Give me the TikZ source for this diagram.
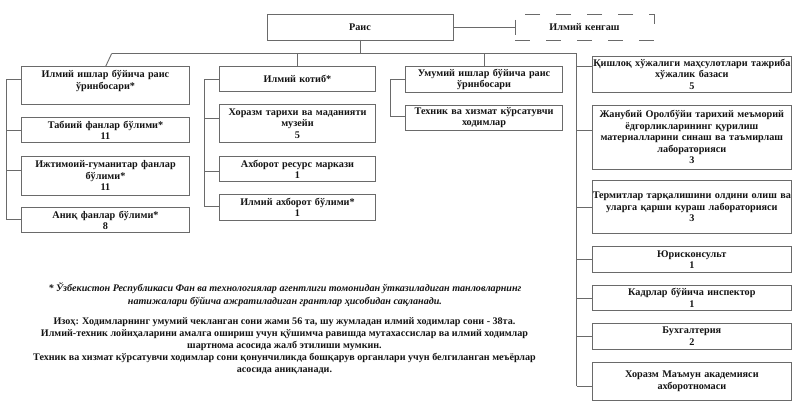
\documentclass[tikz,border=0pt]{standalone}
\usepackage{fontspec}
\setmainfont{Liberation Serif}
\definecolor{ln}{HTML}{6A6A6A}
\definecolor{tx}{HTML}{141414}
\tikzset{
  ob/.style={draw=ln, line width=0.9pt, fill=white, inner xsep=-6pt, inner ysep=1pt, outer sep=0pt, align=center,
    text=tx, font=\fontsize{10.2}{11.5}\selectfont\bfseries},
  dsh/.style={ob, dash pattern=on 15pt off 16pt},
  con/.style={draw=ln, line width=0.9pt},
  fn/.style={align=center, text=tx, inner sep=0pt, font=\fontsize{10.1}{12.1}\selectfont\bfseries}
}
\newcommand\bx[7][ob]{\node[#1, text width={(#5-#3)*1pt+12pt}, minimum width={(#5-#3)*1pt}, minimum height={(#6-#4)*1pt}] (#2) at ({(#3+#5)/2},{(#4+#6)/2}) {#7};}
\begin{document}
\begin{tikzpicture}[x=1pt, y=-1pt]
\useasboundingbox[fill=white] (0,0) rectangle (800,406);
% top
\bx{rais}{267}{14}{453}{40}{Раис}
\bx[dsh]{kengash}{515}{14}{654}{40}{Илмий кенгаш}
% column 1
\bx{a1}{21.7}{66.7}{189.3}{104.3}{Илмий ишлар бўйича раис\\ўринбосари*\\\mbox{}}
\bx{a2}{21.7}{117.7}{189.3}{142.7}{Табиий фанлар бўлими*\\11}
\bx{a3}{21.7}{156.7}{189.3}{195}{Ижтимоий-гуманитар фанлар\\бўлими*\\11}
\bx{a4}{21.7}{207.7}{189.3}{232.7}{Аниқ фанлар бўлими*\\8}
% column 2
\bx{b1}{219.3}{66.7}{375.7}{91.7}{Илмий котиб*}
\bx{b2}{219.3}{104.3}{375.7}{142.7}{Хоразм тарихи ва маданияти\\музейи\\5}
\bx{b3}{219.3}{156.7}{375.7}{181.7}{Ахборот ресурс маркази\\1}
\bx{b4}{219.3}{194.3}{375.7}{220}{Илмий ахборот бўлими*\\1}
% column 3
\bx{c1}{405.7}{66.7}{562.3}{92.3}{Умумий ишлар бўйича раис\\ўринбосари}
\bx{c2}{405.7}{105}{562.3}{130}{Техник ва хизмат кўрсатувчи\\ходимлар}
% column 4
\bx{d1}{592}{56}{791.7}{92.3}{Қишлоқ хўжалиги маҳсулотлари тажриба\\хўжалик базаси\\5}
\bx{d2}{592}{105}{791.7}{169.3}{Жанубий Оролбўйи тарихий меъморий\\ёдгорликларининг қурилиш\\материалларини синаш ва таъмирлаш\\лабораторияси\\3}
\bx{d3}{592}{180.7}{791.7}{233.3}{Термитлар тарқалишини олдини олиш ва\\уларга қарши кураш лабораторияси\\3}
\bx{d4}{592}{246.7}{791.7}{272.3}{Юрисконсульт\\1}
\bx{d5}{592}{285}{791.7}{310.7}{Кадрлар бўйича инспектор\\1}
\bx{d6}{592}{323.3}{791.7}{349.3}{Бухгалтерия\\2}
\bx{d7}{592}{362.3}{791.7}{400}{Хоразм Маъмун академияси\\ахборотномаси}
% bus coordinates
\coordinate (top) at (360,53.5);
\coordinate (tl) at (111.7,53.5);
\coordinate (tr) at (576.7,53.5);
\coordinate (rb) at (576.7,386);
\coordinate (l1) at (6.7,79.3);
\coordinate (l2) at (6.7,130);
\coordinate (l3) at (6.7,170);
\coordinate (l4) at (6.7,219);
\coordinate (m1) at (204,79.3);
\coordinate (m2) at (204,118.3);
\coordinate (m3) at (204,171.7);
\coordinate (m4) at (204,206.7);
\coordinate (n1) at (390.7,79.3);
\coordinate (n2) at (390.7,116.7);
% connectors
\draw[con] (rais.east) -- (kengash.west);
\draw[con] (rais.south) -- (top);
\draw[con] (tl) -- (tr) -- (rb);
\draw[con] (tl) -- (a1.north);
\draw[con] (b1.north |- top) -- (b1.north);
\draw[con] (c1.north |- top) -- (c1.north);
\draw[con] (l1 -| a1.west) -- (l1) -- (l4) -- (l4 -| a4.west);
\draw[con] (l2) -- (l2 -| a2.west);
\draw[con] (l3) -- (l3 -| a3.west);
\draw[con] (m1 -| b1.west) -- (m1) -- (m4) -- (m4 -| b4.west);
\draw[con] (m2) -- (m2 -| b2.west);
\draw[con] (m3) -- (m3 -| b3.west);
\draw[con] (n1 -| c1.west) -- (n1) -- (n2) -- (n2 -| c2.west);
\foreach \y/\n in {66/d1,130.7/d2,207.3/d3,259.3/d4,298.3/d5,336.7/d6,386/d7}
  \draw[con] (576.7,\y) -- (\n.west |- 576.7,\y);
% notes
\node[fn, font=\fontsize{10.1}{12.4}\selectfont\bfseries\itshape] (note1) at (285,294.5)
 {* Ўзбекистон Республикаси Фан ва технологиялар агентлиги томонидан ўтказиладиган танловларнинг\\натижалари бўйича ажратиладиган грантлар ҳисобидан сақланади.};
\node[fn] (note2) at (284.5,346)
 {Изоҳ: Ходимларнинг умумий чекланган сони жами 56 та, шу жумладан илмий ходимлар сони - 38та.\\
  Илмий-техник лойиҳаларини амалга ошириш учун қўшимча равишда мутахассислар ва илмий ходимлар\\
  шартнома асосида жалб этилиши мумкин.\\
  Техник ва хизмат кўрсатувчи ходимлар сони қонунчиликда бошқарув органлари учун белгиланган меъёрлар\\
  асосида аниқланади.};
\end{tikzpicture}
\end{document}
